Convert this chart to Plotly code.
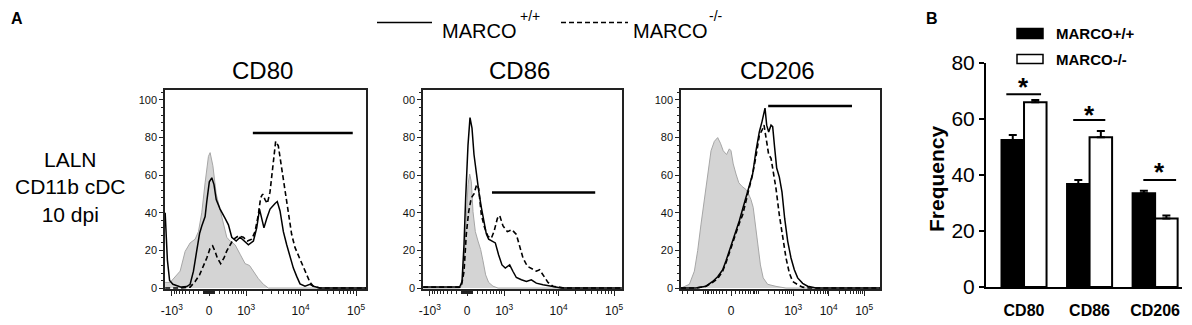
import numpy as np
import plotly.graph_objects as go

W, H = 1192, 325
FONT = "Liberation Sans, Arial, Helvetica, sans-serif"
OFF = 8  # page body margin in the viewer

# ---------------- Panel A data (x in biexponential display units) ----------------
cd80_ctrl_x = [-0.79, -0.70, -0.52, -0.43, -0.34, -0.25, -0.19, -0.13, -0.07, -0.01, 0.02, 0.07, 0.13,
               0.20, 0.26, 0.32, 0.38, 0.47, 0.56, 0.65, 0.73, 0.80, 0.89, 0.98, 1.07, 2.83]
cd80_ctrl_y = [3, 3, 9, 19.5, 24, 26, 30, 40, 56, 70, 72, 65, 50, 41, 34, 27, 25, 23, 18, 13, 12, 9, 5, 2, 0, 0]

cd80_wt_x = [-0.79, -0.75, -0.71, -0.65, -0.50, -0.40, -0.34, -0.28, -0.22, -0.17, -0.13, -0.07, -0.04, 0.006,
             0.05, 0.09, 0.13, 0.20, 0.29, 0.35, 0.41, 0.49, 0.56, 0.63, 0.71, 0.80, 0.86, 0.91, 0.95, 0.99,
             1.04, 1.10, 1.19, 1.23, 1.28, 1.34, 1.40, 1.46, 1.52, 1.58, 1.64, 1.73, 1.82, 1.88, 2.0, 2.83]
cd80_wt_y = [40, 15, 4, 2, 0.5, 0.8, 2, 9, 20, 29, 33, 38, 46, 56.5, 58.6, 55, 47, 42, 37, 33.6, 27, 25, 27,
             25, 23, 25, 32, 42, 37.5, 32, 37, 42, 45, 46, 41, 30, 23, 16, 10.6, 6.2, 2.2, 1, 2, 1, 0, 0]

cd80_ko_x = [-0.79, -0.50, -0.34, -0.25, -0.17, -0.10, -0.04, 0.018, 0.066, 0.108, 0.15, 0.21, 0.27, 0.318,
             0.378, 0.438, 0.529, 0.619, 0.69, 0.77, 0.829, 0.889, 0.93, 0.967, 1.009, 1.051, 1.099, 1.159,
             1.201, 1.249, 1.291, 1.339, 1.387, 1.429, 1.489, 1.549, 1.628, 1.70, 1.76, 1.82, 1.88, 2.0, 2.83]
cd80_ko_y = [0, 0, 0.5, 3.5, 7, 11.6, 16, 21, 22.4, 19.6, 16, 13, 16, 19.6, 23, 25.9, 27.7, 27, 25, 26, 30,
             39, 48, 50, 47, 45, 51, 65, 78, 75.6, 67.5, 58.6, 49.8, 39.2, 28.6, 21.6, 16, 11.6, 7, 3, 1, 0, 0]

cd86_ctrl_x = [-0.79, -0.132, -0.102, -0.072, -0.042, -0.012, 0.018, 0.048, 0.078, 0.108, 0.15, 0.198,
               0.246, 0.288, 0.336, 0.39, 0.468, 0.559, 2.79]
cd86_ctrl_y = [0, 0, 1, 5.4, 19.6, 40.6, 55, 60.6, 56.5, 40.6, 30, 25, 20.5, 14.5, 7, 3, 1, 0, 0]

cd86_wt_x = [-0.79, -0.132, -0.09, -0.054, -0.024, 0.018, 0.054, 0.09, 0.126, 0.168, 0.21, 0.258, 0.306,
             0.348, 0.39, 0.45, 0.51, 0.57, 0.63, 0.69, 0.769, 0.829, 0.889, 0.98, 1.07, 1.159, 1.249, 1.369,
             1.52, 1.70, 2.79]
cd86_wt_y = [0.5, 0.5, 3.5, 23, 48, 76, 90.6, 85, 71, 60.6, 51.8, 42.9, 35.8, 28.8, 26, 25, 24, 17.6, 12.3,
             10.6, 12.3, 8.8, 5.6, 4.4, 3.5, 4.4, 2.6, 1.8, 1, 0, 0]

cd86_ko_x = [-0.79, -0.13, -0.102, -0.054, -0.012, 0.03, 0.078, 0.126, 0.174, 0.21, 0.258, 0.318, 0.378,
             0.438, 0.486, 0.547, 0.589, 0.649, 0.727, 0.811, 0.889, 0.949, 1.009, 1.087, 1.159, 1.249, 1.309,
             1.369, 1.459, 1.549, 1.76, 2.79]
cd86_ko_y = [0.5, 0.5, 1, 8.8, 28.8, 40.6, 48, 50, 55, 53, 39, 32, 27.5, 26.5, 30, 37, 38.5, 33, 30, 31,
             28.5, 21.5, 16, 11.6, 10.6, 9, 9.7, 7, 3, 1, 0, 0]

cd206_ctrl_x = [-0.90, -0.75, -0.66, -0.60, -0.54, -0.48, -0.42, -0.36, -0.30, -0.24, -0.19, -0.14, -0.08,
                -0.03, 0.0, 0.04, 0.09, 0.14, 0.20, 0.27, 0.32, 0.36, 0.40, 0.44, 0.48, 0.53, 0.58, 0.66,
                0.81, 0.99, 2.69]
cd206_ctrl_y = [0, 2, 9, 20, 34, 48, 60.6, 73, 78, 80, 77, 73, 71, 74, 73, 66, 60.6, 56, 54, 52.4, 49.8,
                47, 42.9, 34, 23, 12.3, 5.4, 2, 0.9, 0, 0]

cd206_wt_x = [-0.90, -0.631, -0.45, -0.33, -0.24, -0.15, -0.09, -0.03, 0.03, 0.09, 0.15, 0.21, 0.27, 0.33,
              0.39, 0.45, 0.51, 0.559, 0.589, 0.613, 0.643, 0.679, 0.721, 0.751, 0.787, 0.823, 0.871, 0.919,
              0.967, 1.021, 1.081, 1.141, 1.201, 1.291, 1.381, 1.532, 2.69]
cd206_wt_y = [0, 0, 1, 3.5, 6, 9.7, 14.5, 19.6, 25, 30, 35.8, 42, 48, 54, 60.6, 73, 83, 88.5, 93, 95.7,
              86.6, 83, 86.6, 85.8, 74.4, 63.8, 59, 51, 37, 25, 16, 9.7, 5.4, 2.5, 1, 0, 0]

cd206_ko_x = [-0.90, -0.631, -0.45, -0.33, -0.24, -0.15, -0.09, -0.03, 0.03, 0.09, 0.15, 0.21, 0.27, 0.33,
              0.39, 0.45, 0.51, 0.559, 0.595, 0.631, 0.679, 0.721, 0.763, 0.811, 0.871, 0.931, 0.991, 1.051,
              1.111, 1.201, 1.291, 1.41, 2.69]
cd206_ko_y = [0, 0, 1, 3, 5, 9, 13.5, 19, 24, 29, 34.5, 39, 46, 53, 60.6, 70, 81, 84, 86.6, 80, 71, 69,
              61.7, 52.9, 38.8, 27.5, 16, 8, 3.5, 1.8, 0.5, 0, 0]

# gate bars (x start, x end, y)
gate_x0 = [0.79, 0.45, 0.67]
gate_x1 = [2.59, 2.31, 2.18]
gate_y = [82.5, 50.8, 96.8]

panel_titles = ["CD80", "CD86", "CD206"]
y_tick_vals = [0, 20, 40, 60, 80, 100]
y_tick_text = [["0", "20", "40", "60", "80", "100"],
               ["0", "20", "40", "60", "80", "00"],
               ["0", "20", "40", "60", "80", "100"]]
x_major_vals = [-1e3, 0, 1e3, 1e4, 1e5]
x_major_text = ["-10<sup>3</sup>", "0", "10<sup>3</sup>", "10<sup>4</sup>", "10<sup>5</sup>"]

# ---------------- Panel B data ----------------
groups = ["CD80", "CD86", "CD206"]
wt_freq = [52.5, 36.8, 33.5]
wt_err = [1.8, 1.4, 0.9]
ko_freq = [66.0, 53.5, 24.5]
ko_err = [0.8, 2.2, 1.0]
sig_x0 = [-0.27, 0.75, 1.82]
sig_x1 = [0.26, 1.24, 2.32]
sig_y = [68.8, 59.6, 38.2]
star_y = [73.2, 63.2, 42.9]

# ---------------- layout geometry (reference pixel -> paper) ----------------
def fx(p):
    return (p - OFF) / W

def fy(p):
    return 1 - (p - OFF) / H

panel_px = [(165, 366, 209), (423, 622, 467), (681, 880, 731)]
scale_c = [448.0, 448.0, 35.6]
scale_k = [1.0, 1.0, 0.64]
PXU = 55.5

def biex(v, c, k):
    return k * np.arcsinh(np.asarray(v, dtype=float) / c) / np.log(10)

fig = go.Figure()

hist = [
    (cd80_ctrl_x, cd80_ctrl_y, cd80_wt_x, cd80_wt_y, cd80_ko_x, cd80_ko_y),
    (cd86_ctrl_x, cd86_ctrl_y, cd86_wt_x, cd86_wt_y, cd86_ko_x, cd86_ko_y),
    (cd206_ctrl_x, cd206_ctrl_y, cd206_wt_x, cd206_wt_y, cd206_ko_x, cd206_ko_y),
]

layout_axes = {}
shapes = []
annotations = []

for i, (cx, cy, wx, wy, kx, ky) in enumerate(hist):
    n = i + 1
    xa = "x" if n == 1 else f"x{n}"
    ya = "y" if n == 1 else f"y{n}"
    fig.add_trace(go.Scatter(x=cx, y=cy, mode="lines", fill="tozeroy", fillcolor="#d4d4d4",
                             line=dict(color="#a6a6a6", width=1), xaxis=xa, yaxis=ya, showlegend=False,
                             hoverinfo="skip"))
    fig.add_trace(go.Scatter(x=kx, y=ky, mode="lines", line=dict(color="black", width=1.6, dash="5px,3px"),
                             xaxis=xa, yaxis=ya, showlegend=False, hoverinfo="skip"))
    fig.add_trace(go.Scatter(x=wx, y=wy, mode="lines", line=dict(color="black", width=1.5),
                             xaxis=xa, yaxis=ya, showlegend=False, hoverinfo="skip"))
    fig.add_trace(go.Scatter(x=[gate_x0[i], gate_x1[i]], y=[gate_y[i], gate_y[i]], mode="lines",
                             line=dict(color="black", width=2.5), xaxis=xa, yaxis=ya, showlegend=False,
                             hoverinfo="skip"))

    l, r, z = panel_px[i]
    xmin, xmax = (l - z) / PXU, (r - z) / PXU
    c, k = scale_c[i], scale_k[i]
    maj_pos = biex(x_major_vals, c, k)
    mv, mt = [], []
    for p, t in zip(maj_pos, x_major_text):
        if xmin <= p <= xmax:
            mv.append(float(p)); mt.append(t)
    minor_vals = []
    for s in (1, -1):
        for e in range(1, 5):
            for m in range(2 if e >= 3 else 1, 10):
                v = s * m * 10 ** e
                p = float(biex(v, c, k))
                if xmin < p < xmax:
                    minor_vals.append(p)
    layout_axes["xaxis" if n == 1 else f"xaxis{n}"] = dict(
        domain=[fx(l), fx(r)], range=[xmin, xmax], anchor=ya, showgrid=False, zeroline=False,
        automargin=False, showline=True, mirror=True, linecolor="#222", linewidth=1.5,
        tickmode="array", tickvals=mv, ticktext=mt, ticks="outside", ticklen=5, tickwidth=1.2,
        tickcolor="#222", ticklabelstandoff=5,
        tickfont=dict(family=FONT, size=12, color="#111"),
        minor=dict(tickmode="array", tickvals=minor_vals, ticks="outside", ticklen=3, tickwidth=1,
                   tickcolor="#222"),
    )
    layout_axes["yaxis" if n == 1 else f"yaxis{n}"] = dict(
        domain=[fy(289), fy(90)], range=[-0.5, 105.3], anchor=xa, showgrid=False, zeroline=False,
        automargin=False, showline=True, mirror=True, linecolor="#222", linewidth=1.5,
        tickmode="array", tickvals=y_tick_vals, ticktext=y_tick_text[i], ticks="outside", ticklen=4,
        tickwidth=1.2, tickcolor="#222", tickfont=dict(family=FONT, size=11, color="#111"),
        minor=dict(dtick=4, tick0=0, ticks="outside", ticklen=2, tickwidth=1, tickcolor="#222"),
    )
    annotations.append(dict(x=fx((l + r) / 2 - 3), y=fy(70), xref="paper", yref="paper",
                            text=panel_titles[i], showarrow=False, xanchor="center", yanchor="middle",
                            font=dict(family=FONT, size=24, color="black")))

# ---------------- Panel B ----------------
fig.add_trace(go.Bar(x=groups, y=wt_freq, name="MARCO+/+", xaxis="x4", yaxis="y4",
                     marker=dict(color="black", line=dict(color="black", width=2)),
                     error_y=dict(type="data", array=wt_err, arrayminus=[0] * 3, symmetric=False,
                                  color="black", thickness=2, width=4),
                     showlegend=False, hoverinfo="skip"))
fig.add_trace(go.Bar(x=groups, y=ko_freq, name="MARCO-/-", xaxis="x4", yaxis="y4",
                     marker=dict(color="white", line=dict(color="black", width=2)),
                     error_y=dict(type="data", array=ko_err, arrayminus=[0] * 3, symmetric=False,
                                  color="black", thickness=2, width=4),
                     showlegend=False, hoverinfo="skip"))

layout_axes["xaxis4"] = dict(domain=[fx(986), fx(1182)], range=[-0.58, 2.41], anchor="y4",
                             type="category", categoryorder="array", categoryarray=groups,
                             automargin=False, showgrid=False, zeroline=False, showline=True,
                             linecolor="black", linewidth=2, ticks="", ticklabelstandoff=8,
                             tickfont=dict(family=FONT, size=16, color="black", weight="bold"))
layout_axes["yaxis4"] = dict(domain=[fy(287), fy(63)], range=[0, 80], anchor="x4",
                             automargin=False, showgrid=False, zeroline=False, showline=True,
                             linecolor="black", linewidth=2,
                             tickvals=[0, 20, 40, 60, 80], ticks="outside", ticklen=5, tickwidth=2,
                             tickcolor="black", tickfont=dict(family=FONT, size=21, color="black"))

for i in range(3):
    shapes.append(dict(type="line", xref="x4", yref="y4", x0=sig_x0[i], x1=sig_x1[i], y0=sig_y[i],
                       y1=sig_y[i], line=dict(color="black", width=2)))
    annotations.append(dict(x=(sig_x0[i] + sig_x1[i]) / 2, y=star_y[i], xref="x4", yref="y4", text="*",
                            showarrow=False, yshift=-5, xanchor="center", yanchor="middle",
                            font=dict(family=FONT, size=26, color="black", weight="bold")))

# legend B (drawn)
shapes.append(dict(type="rect", xref="paper", yref="paper", x0=fx(1017), x1=fx(1043), y0=fy(38.5),
                   y1=fy(28.5), fillcolor="black", line=dict(color="black", width=1.5)))
shapes.append(dict(type="rect", xref="paper", yref="paper", x0=fx(1017), x1=fx(1043), y0=fy(63.5),
                   y1=fy(54.5), fillcolor="white", line=dict(color="black", width=1.5)))
annotations.append(dict(x=fx(1054), y=fy(33.5), xref="paper", yref="paper", text="MARCO+/+",
                        showarrow=False, xanchor="left", yanchor="middle",
                        font=dict(family=FONT, size=15, color="black", weight="bold")))
annotations.append(dict(x=fx(1054), y=fy(59), xref="paper", yref="paper", text="MARCO-/-",
                        showarrow=False, xanchor="left", yanchor="middle",
                        font=dict(family=FONT, size=15, color="black", weight="bold")))
annotations.append(dict(x=fx(936), y=fy(179), xref="paper", yref="paper", text="Frequency",
                        showarrow=False, textangle=-90, xanchor="center", yanchor="middle",
                        font=dict(family=FONT, size=21, color="black", weight="bold")))

# top legend (panel A)
shapes.append(dict(type="line", xref="paper", yref="paper", x0=fx(377), x1=fx(432), y0=fy(22.5),
                   y1=fy(22.5), line=dict(color="black", width=1.6)))
shapes.append(dict(type="line", xref="paper", yref="paper", x0=fx(561), x1=fx(628), y0=fy(22.5),
                   y1=fy(22.5), line=dict(color="black", width=1.6, dash="5px,3px")))
legend_items = [(440, 518, "+/+"), (631, 707, "-/-")]
for x_main, x_sup, sup in legend_items:
    annotations.append(dict(x=fx(x_main), y=fy(31), xref="paper", yref="paper", text="MARCO",
                            showarrow=False, xanchor="left", yanchor="middle",
                            font=dict(family=FONT, size=20, color="black")))
    annotations.append(dict(x=fx(x_sup), y=fy(16), xref="paper", yref="paper", text=sup,
                            showarrow=False, xanchor="left", yanchor="middle",
                            font=dict(family=FONT, size=14, color="black")))

# row label and panel letters
annotations.append(dict(x=fx(70), y=fy(187), xref="paper", yref="paper",
                        text="LALN<br>CD11b cDC<br>10 dpi", showarrow=False, xanchor="center",
                        yanchor="middle", align="center",
                        font=dict(family=FONT, size=21, color="black")))
annotations.append(dict(x=fx(9), y=fy(8), xref="paper", yref="paper", text="A", showarrow=False,
                        xanchor="left", yanchor="top",
                        font=dict(family=FONT, size=16, color="black", weight="bold")))
annotations.append(dict(x=fx(932), y=fy(8), xref="paper", yref="paper", text="B", showarrow=False,
                        xanchor="center", yanchor="top",
                        font=dict(family=FONT, size=16, color="black", weight="bold")))

fig.update_layout(width=W, height=H, margin=dict(l=0, r=0, t=0, b=0, autoexpand=False),
                  paper_bgcolor="white", plot_bgcolor="white", barmode="group", bargap=0.313,
                  bargroupgap=0, showlegend=False, shapes=shapes, annotations=annotations, **layout_axes)

fig.write_html("out.html")
